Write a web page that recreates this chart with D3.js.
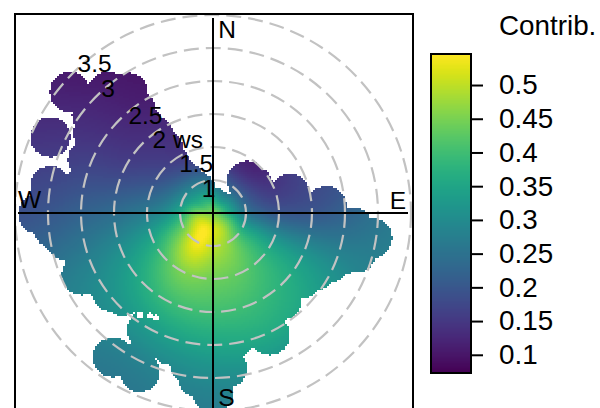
<!DOCTYPE html>
<html><head><meta charset="utf-8">
<style>html,body{margin:0;padding:0;background:#fff;overflow:hidden}svg{display:block}text{font-family:"Liberation Sans",Arial,sans-serif;fill:#000}</style>
<script src="https://cdn.jsdelivr.net/npm/d3@7"></script></head><body>
<script>
// ---- data ----
const wdBins=[0,30,60,90,120,150,180,210,240,270,300,330];
const wsBins=[0.5,0.75,1,1.25,1.5,2,2.5,3,3.5];
const contrib0  =[.45,.34,.24,.18,.15,.12,.11,.10,.10];
const contrib30 =[.45,.31,.21,.14,.11,.10,.10,.10,.10];
const contrib60 =[.45,.33,.22,.16,.14,.16,.17,.18,.18];
const contrib90 =[.45,.36,.26,.22,.20,.20,.22,.25,.27];
const contrib120=[.45,.43,.37,.36,.35,.34,.32,.29,.27];
const contrib150=[.45,.49,.46,.44,.42,.39,.36,.31,.28];
const contrib180=[.45,.52,.50,.47,.44,.40,.35,.30,.27];
const contrib210=[.45,.54,.54,.50,.45,.39,.33,.28,.26];
const contrib240=[.45,.51,.45,.41,.37,.33,.30,.28,.26];
const contrib270=[.45,.45,.36,.30,.27,.24,.22,.20,.19];
const contrib300=[.45,.38,.30,.23,.19,.16,.15,.14,.13];
const contrib330=[.45,.36,.27,.19,.15,.13,.11,.10,.09];
const contribTable=[contrib0,contrib30,contrib60,contrib90,contrib120,contrib150,contrib180,contrib210,contrib240,contrib270,contrib300,contrib330];
// observed wind conditions on the rim of the cloud: [wd, ws]
const rimObs=[[0,.58],[46.7,1.21],[56,1.23],[76.1,1.70],[86.5,2.22],[95.8,2.62],[98.9,2.94],[105.6,2.75],[107.4,2.58],[113.3,2.41],[119.6,2.28],[126.1,2.17],[141.6,2.18],[155,2.54],[174.8,2.86],[180,3.23],[185.2,3.0],[188.7,2.81],[198,2.60],[204.7,3.15],[214.8,3.16],[209.4,2.53],[227.6,2.36],[232,2.44],[237.2,2.43],[244.7,2.70],[249.2,2.59],[255.3,2.58],[259.6,2.77],[264.3,2.92],[269.7,3.15],[279.4,3.0],[293,2.56],[303.7,2.68],[309,2.86],[310.2,3.34],[319,2.93],[324.7,2.73],[323.2,2.45],[321.6,2.18],[322.5,1.97],[322.1,1.71],[318.2,1.45],[317.8,1.15],[322.3,.92]];
const isolatedObs=[[295,3.22]];
// small unobserved pockets inside the cloud: [wd, ws]
const gapObs=[[211.5,2.33],[208.5,2.31],[215.6,2.40]];
const ringValues=[1,1.5,2,2.5,3,3.5];
const ringLabels=["1","1.5","2 ws","2.5","3","3.5"];
const compassLabels=["N","E","S","W"];
const legendTicks=[.1,.15,.2,.25,.3,.35,.4,.45,.5];
const legendDomain=[.073,.546];
const legendTitle="Contrib.";
// ---- layout ----
const W=600,H=408,cx=213,cy=213,axisLen=195,obsR=20,gapR=3,cell=2;
const frame={x:15,y:14,w:398,h:420};
const bar={x:431,w:40,y0:54,y1:373};
const ringBearing=-36*Math.PI/180;
const ringNudge=[[15,11],[22,12],[23,15],[10,18],[-8,17.5],[-2,19]];
const compassPos=[[227,38],[398,209],[226.5,406],[29.5,208]];

const svg=d3.select("body").append("svg").attr("width",W).attr("height",H);
const rScale=d3.scaleLinear().domain([.5,3.5]).range([0,198]);
const color=d3.scaleSequential(d3.interpolateViridis).domain(legendDomain);
const toXY=([wd,ws])=>{const a=wd*Math.PI/180,r=rScale(ws);return [cx+r*Math.sin(a),cy-r*Math.cos(a)];};
const rimPts=rimObs.map(toXY), obsPts=rimPts.concat(isolatedObs.map(toXY)), gapPts=gapObs.map(toXY);
const near=(pts,R,x,y)=>pts.some(p=>(p[0]-x)**2+(p[1]-y)**2<=R*R);
const inCloud=(x,y)=>!near(gapPts,gapR,x,y)&&(d3.polygonContains(rimPts,[x,y])||near(obsPts,obsR,x,y));
const wsIdx=d3.scaleLinear().domain(wsBins).range(wsBins.map((d,i)=>i)).clamp(true);
// Catmull-Rom blend of four table neighbours
const cr=(a,b,c,d,t)=>.5*(2*b+(c-a)*t+(2*a-5*b+4*c-d)*t*t+(3*b-a-3*c+d)*t*t*t);
function valueAt(x,y){
  const dx=x-cx,dy=y-cy,r=Math.hypot(dx,dy);
  let wd=Math.atan2(dx,-dy)*180/Math.PI; if(wd<0)wd+=360;
  const fa=wd/30,a0=Math.floor(fa),ta=fa-a0;
  const fr=wsIdx(rScale.invert(r)),r0=Math.min(Math.floor(fr),wsBins.length-2),tr=fr-r0;
  const n=wsBins.length;
  const col=i=>{const c=contribTable[(i+12)%12];return cr(c[Math.max(r0-1,0)],c[r0],c[r0+1],c[Math.min(r0+2,n-1)],tr);};
  return cr(col(a0-1),col(a0),col(a0+1),col(a0+2),ta);
}
svg.append("defs").append("clipPath").attr("id","fr").append("rect").attr("x",frame.x).attr("y",frame.y).attr("width",frame.w).attr("height",frame.h);
// surface cells
const cells=[];
for(let y=frame.y;y<H;y+=cell)for(let x=frame.x;x<frame.x+frame.w;x+=cell){
  if(inCloud(x+cell/2,y+cell/2))cells.push({x,y,v:valueAt(x+cell/2,y+cell/2)});
}
svg.append("g").attr("shape-rendering","crispEdges").selectAll("rect").data(cells).join("rect")
  .attr("x",d=>d.x).attr("y",d=>d.y).attr("width",cell).attr("height",cell).attr("fill",d=>color(d.v));
// rings
svg.append("g").attr("clip-path","url(#fr)").selectAll("circle").data(ringValues).join("circle")
  .attr("cx",cx).attr("cy",cy).attr("r",d=>rScale(d)).attr("fill","none").attr("stroke","#c2c2c2").attr("stroke-width",2.2).attr("stroke-dasharray","15 7");
// axes cross
const cross=[[cx,cy-axisLen,cx,cy+axisLen],[cx-axisLen,cy,cx+axisLen,cy]];
svg.append("g").selectAll("line").data(cross).join("line")
  .attr("x1",d=>d[0]).attr("y1",d=>d[1]).attr("x2",d=>d[2]).attr("y2",d=>d[3]).attr("stroke","#000").attr("stroke-width",2);
// frame
svg.append("rect").attr("x",frame.x).attr("y",frame.y).attr("width",frame.w).attr("height",frame.h).attr("fill","none").attr("stroke","#000").attr("stroke-width",2);
// ring labels
svg.append("g").selectAll("text").data(ringValues).join("text")
  .attr("x",(d,i)=>cx+rScale(d)*Math.sin(ringBearing)+ringNudge[i][0])
  .attr("y",(d,i)=>cy-rScale(d)*Math.cos(ringBearing)+ringNudge[i][1])
  .attr("text-anchor","middle").attr("font-size",24.5).text((d,i)=>ringLabels[i]);
// compass
svg.append("g").selectAll("text").data(compassLabels).join("text")
  .attr("x",(d,i)=>compassPos[i][0]).attr("y",(d,i)=>compassPos[i][1])
  .attr("text-anchor","middle").attr("font-size",24.5).text(d=>d);
// legend
const yLeg=d3.scaleLinear().domain(legendDomain).range([bar.y1,bar.y0]);
const stops=d3.range(bar.y0,bar.y1,1);
svg.append("g").attr("shape-rendering","crispEdges").selectAll("rect").data(stops).join("rect")
  .attr("x",bar.x).attr("y",d=>d).attr("width",bar.w).attr("height",1.2).attr("fill",d=>color(yLeg.invert(d+.5)));
svg.append("rect").attr("x",bar.x).attr("y",bar.y0).attr("width",bar.w).attr("height",bar.y1-bar.y0).attr("fill","none").attr("stroke","#000").attr("stroke-width",2);
const ax=svg.append("g").attr("transform",`translate(${bar.x+bar.w},0)`)
  .call(d3.axisRight(yLeg).tickValues(legendTicks).tickFormat(d3.format("~g")).tickSize(12).tickPadding(16));
ax.select(".domain").remove();
ax.selectAll("line").attr("stroke","#000").attr("stroke-width",2);
ax.selectAll("text").attr("font-size",27.8).attr("font-family",'"Liberation Sans",Arial,sans-serif').attr("fill","#000");
svg.append("text").attr("x",499).attr("y",35).attr("font-size",27.8).text(legendTitle);
</script></body></html>
